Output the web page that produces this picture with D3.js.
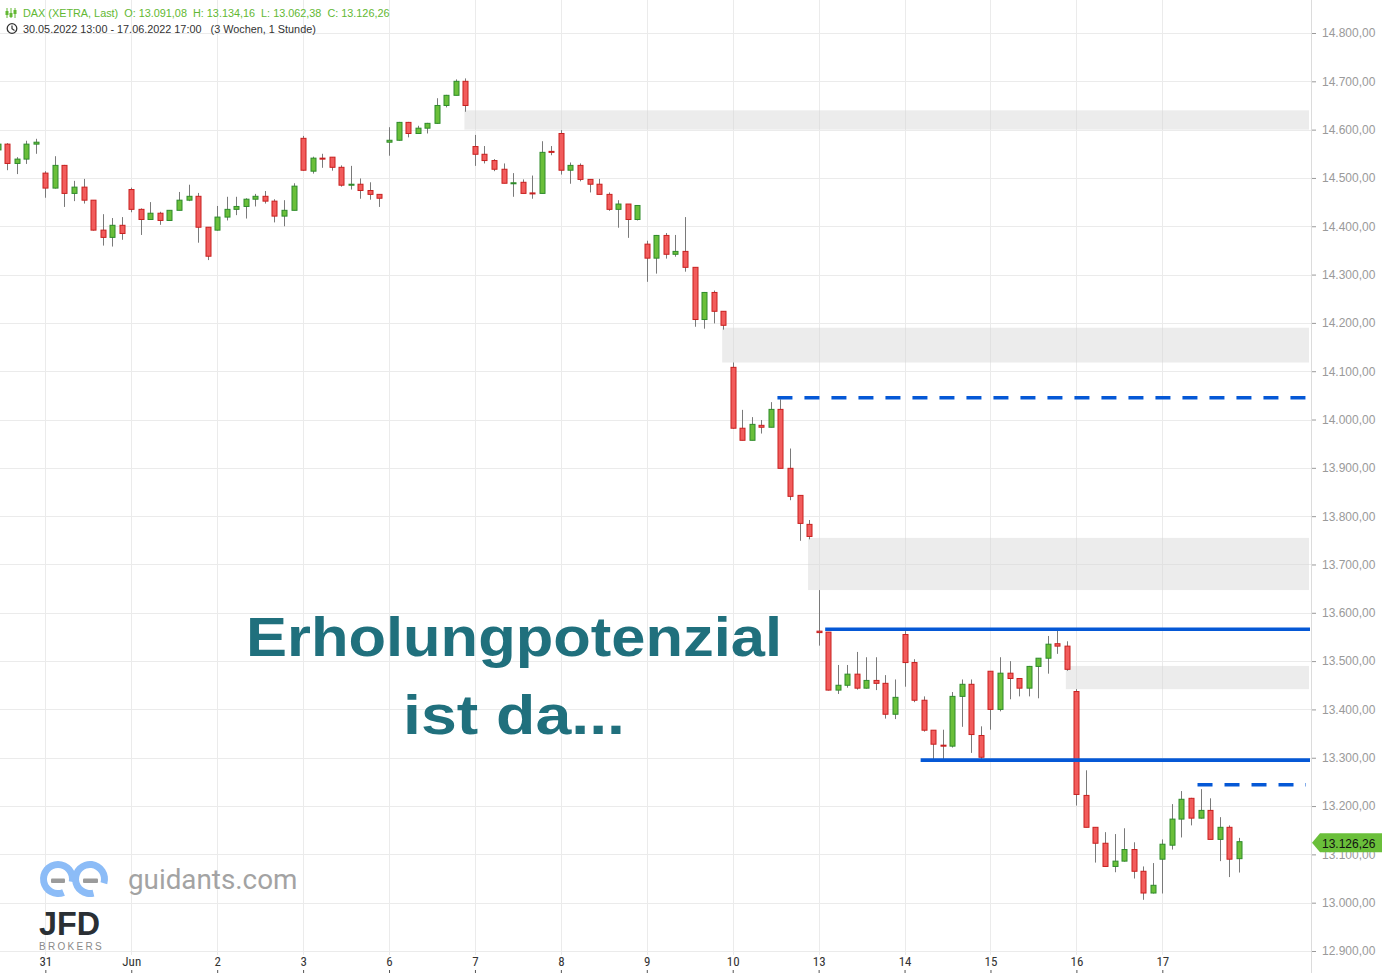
<!DOCTYPE html>
<html><head><meta charset="utf-8">
<script src="https://cdn.jsdelivr.net/npm/d3@7"></script>
<style>html,body{margin:0;padding:0;background:#fff;overflow:hidden}</style>
</head><body>
<svg id="c" width="1382" height="973"></svg>
<script>
// ---------------- DATA ----------------
const sessionDays = ["30.05.2022","31.05.2022","01.06.2022","02.06.2022","03.06.2022","06.06.2022","07.06.2022","08.06.2022","09.06.2022","10.06.2022","13.06.2022","14.06.2022","15.06.2022","16.06.2022","17.06.2022"];
const dayTickLabels = ["","31","Jun","2","3","6","7","8","9","10","13","14","15","16","17"];
const sessionHours = [9,10,11,12,13,14,15,16,17];
const firstDayStartHour = 13;

const openV = [14558,14570,14530,14539,14570, 14510,14479,14526,14468,14481,14454,14392,14377,14402,
 14476,14435,14414,14427,14412,14433,14454,14462,14398, 14392,14419,14435,14441,14456,14462,14452,14421,14433,
 14582,14514,14541,14543,14522,14485,14487,14474,14466, 14574,14578,14615,14592,14603,14613,14650,14671,14700,
 14565,14549,14536,14518,14489,14491,14469,14468,14555, 14592,14516,14526,14497,14487,14466,14435,14446,14414,
 14363,14334,14381,14342,14348,14315,14207,14263,14224, 14108,13982,13957,13988,13984,14021,13899,13843,13783,
 13562,13560,13440,13450,13473,13444,13460,13454,13390, 13555,13497,13419,13357,13326,13324,13427,13452,13346,
 13479,13400,13475,13464,13444,13489,13506,13536,13531, 13437,13222,13156,13123,13075,13086,13110,13065,13020,
 13090,13119,13173,13216,13175,13191,13131,13156,13091.08];
const highV = [14575,14572,14543,14577,14581, 14514,14545,14527,14494,14498,14454,14425,14417,14419,
 14480,14437,14450,14430,14433,14471,14486,14469,14398, 14442,14461,14461,14458,14467,14473,14456,14454,14489,
 14587,14544,14550,14543,14526,14525,14499,14491,14466, 14605,14616,14616,14608,14614,14665,14672,14704,14706,
 14589,14566,14539,14530,14510,14497,14505,14576,14566, 14599,14532,14530,14497,14498,14470,14454,14446,14444,
 14370,14382,14386,14382,14419,14315,14264,14267,14224, 14118,14020,14005,13999,14036,14042,13940,13843,13792,
 13647,13560,13492,13492,13519,13508,13508,13471,13462, 13562,13504,13427,13357,13358,13436,13462,13462,13365,
 13479,13508,13500,13465,13490,13506,13552,13563,13541, 13442,13274,13156,13146,13142,13154,13125,13075,13082,
 13131,13204,13231,13217,13235,13216,13177,13160,13134.16];
const lowV = [14550,14516,14508,14529,14550, 14459,14478,14440,14452,14447,14391,14360,14358,14372,
 14429,14382,14414,14403,14412,14433,14452,14366,14330, 14391,14412,14423,14416,14441,14447,14408,14400,14433,
 14515,14509,14521,14515,14482,14476,14457,14455,14440, 14546,14577,14584,14592,14592,14612,14646,14671,14637,
 14525,14530,14514,14489,14461,14468,14457,14468,14547, 14507,14488,14493,14470,14466,14432,14397,14376,14412,
 14285,14302,14333,14337,14306,14192,14188,14199,14186, 13981,13957,13957,13971,13984,13899,13833,13749,13752,
 13532,13439,13432,13445,13441,13443,13440,13381,13380, 13447,13415,13354,13297,13297,13321,13364,13310,13297,
 13358,13396,13421,13427,13427,13423,13474,13515,13480, 13201,13156,13083,13075,13063,13085,13050,13006,13019,
 13019,13110,13135,13160,13174,13131,13086,13053,13062.38];
const closeV = [14570,14530,14539,14570,14574, 14479,14526,14468,14481,14454,14392,14377,14402,14385,
 14435,14414,14427,14412,14433,14454,14462,14398,14338, 14419,14435,14441,14456,14462,14452,14421,14433,14483,
 14516,14541,14540,14522,14485,14487,14474,14466,14458, 14578,14615,14592,14603,14613,14650,14671,14700,14650,
 14549,14536,14518,14489,14490,14468,14468,14553,14553, 14516,14526,14497,14487,14466,14435,14446,14414,14443,
 14334,14381,14342,14348,14315,14207,14263,14224,14195, 13982,13957,13990,13984,14021,13899,13841,13785,13758,
 13559,13440,13450,13473,13444,13460,13454,13390,13425, 13497,13419,13357,13328,13325,13427,13452,13348,13301,
 13400,13475,13464,13444,13489,13506,13535,13531,13483, 13224,13156,13123,13075,13086,13110,13065,13020,13036,
 13121,13173,13214,13175,13191,13131,13156,13090,13126.26];

const priceTicks = [12900,13000,13100,13200,13300,13400,13500,13600,13700,13800,13900,14000,14100,14200,14300,14400,14500,14600,14700,14800];

// gap zones (price bands) and their start candle
const zoneTop    = [14640, 14190, 13755, 13490];
const zoneBottom = [14600, 14118, 13647, 13442];
const zoneFrom   = ["06.06.2022 17:00","09.06.2022 17:00","10.06.2022 17:00","15.06.2022 17:00"];

// horizontal levels
const levelPrice  = [14045, 13566, 13295, 13244];
const levelFrom   = ["10.06.2022 14:00","13.06.2022 10:00","14.06.2022 11:00","17.06.2022 13:00"];
const levelDashed = [true, false, false, true];

const lastPrice = 13126.26;
const headerText = "DAX (XETRA, Last)  O: 13.091,08  H: 13.134,16  L: 13.062,38  C: 13.126,26";
const rangeText = "30.05.2022 13:00 - 17.06.2022 17:00   (3 Wochen, 1 Stunde)";
const annotation = ["Erholungpotenzial", "ist da..."];

// ---------------- BUILD ----------------
const times = [];
sessionDays.forEach((d, i) => {
  sessionHours.forEach(h => { if (i > 0 || h >= firstDayStartHour) times.push(d + " " + h + ":00"); });
});
const candles = times.map((t, i) => ({t, o: openV[i], h: highV[i], l: lowV[i], c: closeV[i]}));

const W = 1382, H = 973, plotRight = 1311;
const svg = d3.select("#c");
const x = d3.scalePoint().domain(times).range([-2.4, 1238.7]);
const y = d3.scaleLinear().domain([12900, 14800]).range([951, 33]);
const de = d3.formatLocale({decimal: ",", thousands: ".", grouping: [3], currency: ["", ""]});
const fmt = de.format(",.2f");

const dayStarts = sessionDays.slice(1).map(d => d + " 9:00");

// grid
const grid = svg.append("g");
grid.selectAll(".hg").data(priceTicks).join("line")
  .attr("x1", 0).attr("x2", plotRight).attr("y1", d => Math.round(y(d)) + 0.5).attr("y2", d => Math.round(y(d)) + 0.5)
  .attr("stroke", "#ebebeb").attr("stroke-width", 1);
grid.selectAll(".vg").data(dayStarts).join("line")
  .attr("x1", d => Math.round(x(d)) + 0.5).attr("x2", d => Math.round(x(d)) + 0.5).attr("y1", 0).attr("y2", 955)
  .attr("stroke", "#ebebeb").attr("stroke-width", 1);

// zones
svg.append("g").selectAll("rect").data(zoneTop).join("rect")
  .attr("x", (d, i) => x(zoneFrom[i]) - 1)
  .attr("width", (d, i) => plotRight - 2 - (x(zoneFrom[i]) - 1))
  .attr("y", d => y(d))
  .attr("height", (d, i) => y(zoneBottom[i]) - y(d))
  .attr("fill", "#d4d4d4").attr("fill-opacity", 0.45);

// candles
const cg = svg.append("g");
cg.selectAll(".wick").data(candles).join("line")
  .attr("x1", d => Math.round(x(d.t)) + 0.5).attr("x2", d => Math.round(x(d.t)) + 0.5)
  .attr("y1", d => y(d.h)).attr("y2", d => y(d.l))
  .attr("stroke", "#7a7a7a").attr("stroke-width", 1);
cg.selectAll(".body").data(candles).join("rect")
  .attr("x", d => Math.round(x(d.t)) - 2)
  .attr("width", 5)
  .attr("y", d => y(Math.max(d.o, d.c)))
  .attr("height", d => Math.max(1, Math.abs(y(d.o) - y(d.c))))
  .attr("fill", d => d.c >= d.o ? "#6abf3a" : "#f25c5c")
  .attr("stroke", d => d.c >= d.o ? "#2e8b2b" : "#c8201f")
  .attr("stroke-width", 1);

// levels
svg.append("g").selectAll("line").data(levelPrice).join("line")
  .attr("x1", (d, i) => x(levelFrom[i]) - 3)
  .attr("x2", (d, i) => levelDashed[i] ? plotRight - 5 : plotRight - 1)
  .attr("y1", d => y(d)).attr("y2", d => y(d))
  .attr("stroke", "#0558d6").attr("stroke-width", 3.6)
  .attr("stroke-dasharray", (d, i) => levelDashed[i] ? "15,12" : null);

// annotation
const ann = svg.append("g").attr("fill", "#20707d").attr("font-family", "Liberation Sans, Arial, sans-serif").attr("font-weight", "bold");
ann.append("text").attr("x", 246).attr("y", 656).attr("font-size", 56)
  .attr("textLength", 536).attr("lengthAdjust", "spacingAndGlyphs").text(annotation[0]);
ann.append("text").attr("x", 403).attr("y", 734).attr("font-size", 56)
  .attr("textLength", 222).attr("lengthAdjust", "spacingAndGlyphs").text(annotation[1]);

// y axis
svg.append("line").attr("x1", plotRight + 0.5).attr("x2", plotRight + 0.5).attr("y1", 0).attr("y2", H)
  .attr("stroke", "#dcdcdc");
const yAxis = svg.append("g").attr("transform", `translate(${plotRight + 1},0)`)
  .call(d3.axisRight(y).tickValues(priceTicks).tickFormat(fmt).tickSize(4).tickPadding(6));
yAxis.select(".domain").remove();
yAxis.selectAll("line").attr("stroke", "#9a9a9a");
yAxis.selectAll("text").attr("fill", "#9a9a9a").attr("font-size", 12).attr("font-family", "Liberation Sans, Arial, sans-serif");

// price tag (drawn over the axis label, as in the original)
const ty = y(lastPrice);
svg.append("path")
  .attr("d", `M${plotRight + 1},${ty + 1} L${plotRight + 9},${ty - 8.5} L${W},${ty - 8.5} L${W},${ty + 10.5} L${plotRight + 9},${ty + 10.5} Z`)
  .attr("fill", "#6abf3a");
svg.append("text").attr("x", 1322).attr("y", ty + 6).attr("font-size", 12)
  .attr("font-family", "Liberation Sans, Arial, sans-serif").attr("fill", "#111").text(fmt(lastPrice));

// x axis
const xAxis = svg.append("g").attr("transform", "translate(0,973)")
  .call(d3.axisTop(x).tickValues(dayStarts).tickFormat((d, i) => dayTickLabels[i + 1]).tickSize(3).tickPadding(4));
xAxis.select(".domain").remove();
xAxis.selectAll("line").attr("stroke", "#555");
xAxis.selectAll("text").attr("fill", "#333").attr("font-size", 13)
  .attr("font-family", "Liberation Sans Narrow, Roboto Condensed, Arial Narrow, sans-serif");

// header
const hdr = svg.append("g").attr("font-family", "Liberation Sans, Arial, sans-serif").attr("font-size", 10.85);
const ic = hdr.append("g").attr("stroke", "#62b832").attr("fill", "#62b832");
[7, 11, 15].forEach((xx, k) => {
  ic.append("line").attr("x1", xx).attr("x2", xx).attr("y1", 8).attr("y2", 18).attr("stroke-width", 1);
  ic.append("rect").attr("x", xx - 1.5).attr("y", [11, 13, 10][k]).attr("width", 3).attr("height", 4).attr("stroke", "none");
});
hdr.append("text").attr("x", 23).attr("y", 17).attr("fill", "#62b832").style("white-space", "pre").text(headerText);
hdr.append("circle").attr("cx", 12).attr("cy", 28.5).attr("r", 4.8).attr("fill", "none").attr("stroke", "#333").attr("stroke-width", 1.3);
hdr.append("path").attr("d", "M12,25.5 L12,28.8 L14.5,30.5").attr("fill", "none").attr("stroke", "#333").attr("stroke-width", 1.2);
hdr.append("text").attr("x", 23).attr("y", 33).attr("fill", "#333").style("white-space", "pre").text(rangeText);

// logos
const logo = svg.append("g");
const arc = d3.arc().innerRadius(11).outerRadius(18);
logo.append("path").attr("transform", "translate(58,879)")
  .attr("d", arc({startAngle: 2.75, endAngle: 2.75 + 5.3})).attr("fill", "#8cbcf7");
logo.append("path").attr("transform", "translate(90,879)")
  .attr("d", arc({startAngle: 2.9, endAngle: 2.9 + 5.25})).attr("fill", "#8cbcf7");
logo.append("rect").attr("x", 51).attr("y", 878.5).attr("width", 14).attr("height", 4.5).attr("rx", 1).attr("fill", "#9b9b9b");
logo.append("rect").attr("x", 83).attr("y", 878.5).attr("width", 15).attr("height", 4.5).attr("rx", 1).attr("fill", "#9b9b9b");
logo.append("text").attr("x", 128).attr("y", 889).attr("font-family", "Roboto, Liberation Sans, sans-serif")
  .attr("font-size", 27.8).attr("fill", "#a3a3a3").text("guidants.com");
logo.append("text").attr("x", 39).attr("y", 935).attr("font-family", "Liberation Sans, Arial, sans-serif")
  .attr("font-weight", "bold").attr("font-size", 34).attr("fill", "#2a2f34")
  .attr("textLength", 61).attr("lengthAdjust", "spacingAndGlyphs").text("JFD");
logo.append("text").attr("x", 39).attr("y", 950).attr("font-family", "Liberation Sans, Arial, sans-serif")
  .attr("font-size", 10).attr("fill", "#8a8a8a").attr("letter-spacing", 2.3).text("BROKERS");
</script>
</body></html>
